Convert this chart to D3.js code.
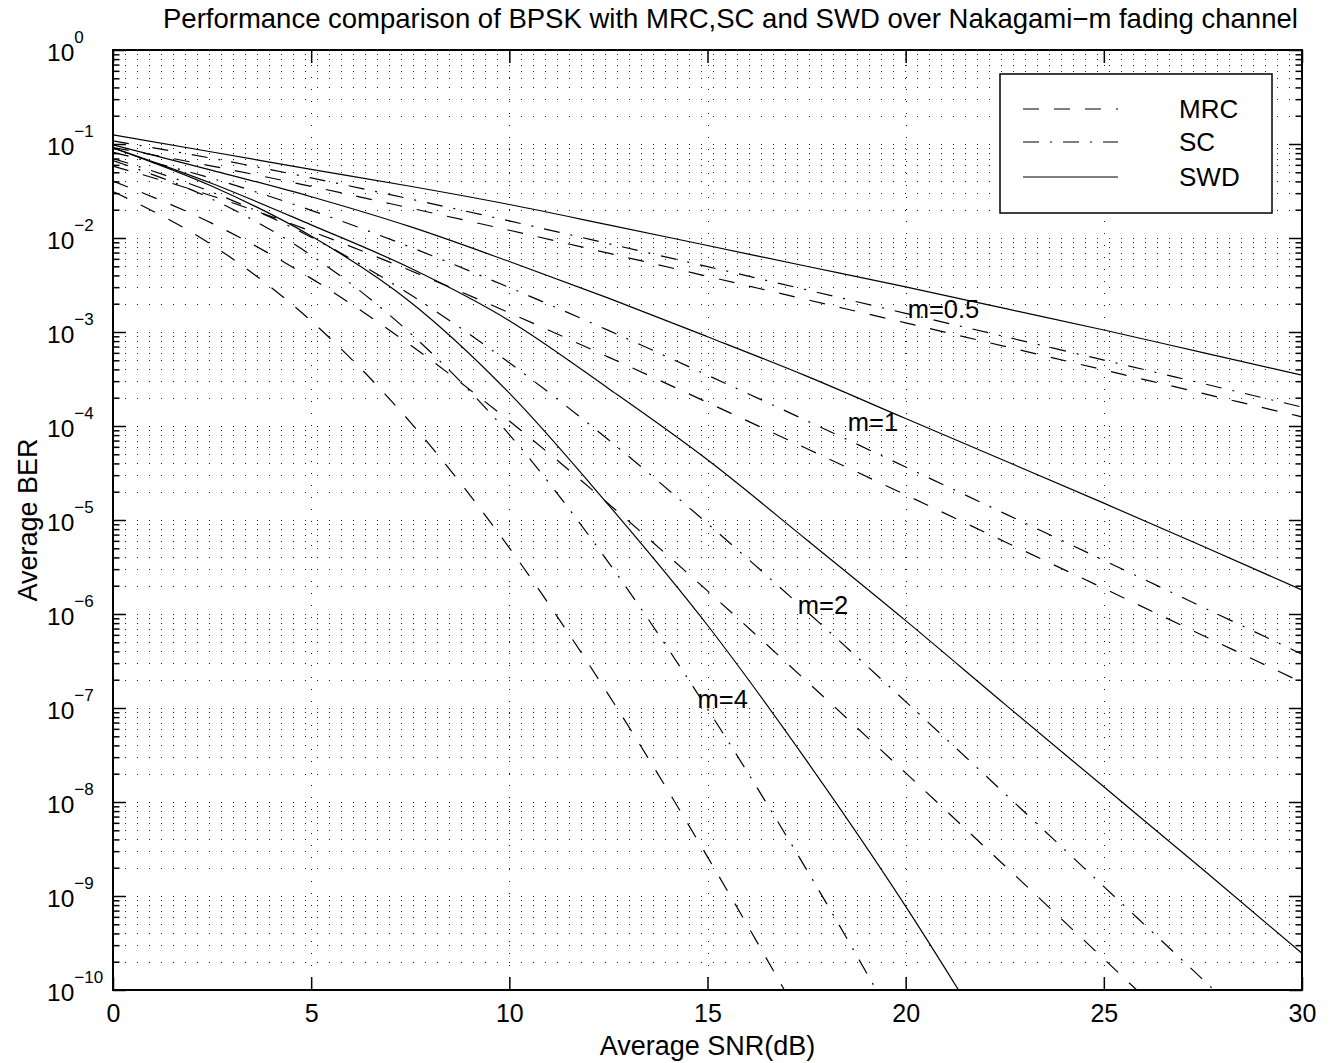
<!DOCTYPE html>
<html>
<head>
<meta charset="utf-8">
<script src="https://cdn.jsdelivr.net/npm/d3@7"></script>
<style>
  html, body { margin: 0; padding: 0; background: #fff; }
  text { font-family: "Liberation Sans", Arial, Helvetica, sans-serif; fill: #000; }
</style>
</head>
<body>
<svg id="chart" width="1335" height="1063"></svg>
<script>
// ---------------- data ----------------
const snrDb = [0, 2.5, 5, 7.5, 10, 12.5, 15, 17.5, 20, 22.5, 25, 27.5, 30];

// MRC (dashed)
const mrcM05 = [9.18e-2, 5.82e-2, 3.54e-2, 2.08e-2, 1.21e-2, 6.89e-3, 3.91e-3, 2.21e-3, 1.25e-3, 7.03e-4, 3.95e-4, 2.22e-4, 1.25e-4];
const mrcM1  = [5.81e-2, 2.80e-2, 1.18e-2, 4.51e-3, 1.60e-3, 5.41e-4, 1.78e-4, 5.76e-5, 1.85e-5, 5.88e-6, 1.87e-6, 5.91e-7, 1.87e-7];
const mrcM2  = [4.03e-2, 1.43e-2, 3.72e-3, 7.29e-4, 1.13e-4, 1.49e-5, 1.76e-6, 1.93e-7, 2.04e-8, 2.10e-9, 2.14e-10, 2.17e-11];
const mrcM4  = [3.13e-2, 8.43e-3, 1.31e-3, 1.10e-4, 5.05e-6, 1.39e-7, 2.61e-9, 3.83e-11];

// SC (dash-dot)
const scM05 = [1.08e-1, 7.04e-2, 4.36e-2, 2.60e-2, 1.52e-2, 8.71e-3, 4.96e-3, 2.81e-3, 1.58e-3, 8.93e-4, 5.03e-4, 2.83e-4, 1.59e-4];
const scM1  = [8.16e-2, 4.30e-2, 1.97e-2, 8.01e-3, 2.97e-3, 1.04e-3, 3.47e-4, 1.14e-4, 3.66e-5, 1.17e-5, 3.72e-6, 1.18e-6, 3.74e-7];
const scM2  = [7.01e-2, 3.07e-2, 1.02e-2, 2.50e-3, 4.70e-4, 7.14e-5, 9.16e-6, 1.07e-6, 1.17e-7, 1.23e-8, 1.26e-9, 1.29e-10, 1.31e-11];
const scM4  = [6.66e-2, 2.59e-2, 6.55e-3, 9.70e-4, 8.10e-5, 3.55e-6, 9.77e-8, 1.91e-9, 2.82e-11];

// SWD (solid)
const swdM05 = [1.25e-1, 8.22e-2, 5.37e-2, 3.55e-2, 2.27e-2, 1.38e-2, 8.32e-3, 5.01e-3, 3.02e-3, 1.78e-3, 1.05e-3, 6.03e-4, 3.47e-4];
const swdM1  = [9.77e-2, 5.25e-2, 2.75e-2, 1.32e-2, 5.62e-3, 2.29e-3, 8.91e-4, 3.39e-4, 1.20e-4, 4.27e-5, 1.51e-5, 5.25e-6, 1.80e-6];
const swdM2  = [9.12e-2, 3.80e-2, 1.38e-2, 4.79e-3, 1.32e-3, 2.51e-4, 4.37e-5, 6.17e-6, 8.51e-7, 1.10e-7, 1.45e-8, 1.91e-9, 2.46e-10];
const swdM4  = [9.12e-2, 3.55e-2, 1.05e-2, 2.09e-3, 2.24e-4, 1.45e-5, 7.59e-7, 2.75e-8, 7.76e-10, 1.59e-11];

const xTickValues = [0, 5, 10, 15, 20, 25, 30];
const yTickExponents = [0, -1, -2, -3, -4, -5, -6, -7, -8, -9, -10];
const legendLabels = ["MRC", "SC", "SWD"];
const curveLabels = ["m=0.5", "m=1", "m=2", "m=4"];

const titleText = "Performance comparison of BPSK with MRC,SC and SWD over Nakagami\u2212m fading channel";
const xLabelText = "Average SNR(dB)";
const yLabelText = "Average BER";

// ---------------- layout ----------------
const L = 113, R = 1302, T = 50, B = 990;
const svg = d3.select("#chart");
const x = d3.scaleLinear().domain([0, 30]).range([L, R]);
const y = d3.scaleLog().domain([1e-10, 1]).range([B, T]);

const styles = {
  MRC: "16,15",
  SC: "16,11,2,11",
  SWD: null
};

const majorVals = yTickExponents.map(e => Math.pow(10, e));
const minorVals = [];
for (let k = -10; k <= -1; k++) for (let j = 2; j <= 9; j++) minorVals.push(j * Math.pow(10, k));

// ---------------- grid ----------------
const grid = svg.append("g").attr("shape-rendering", "crispEdges")
  .attr("stroke", "#1a1a1a").attr("stroke-width", 1).attr("stroke-dasharray", "1,11");
grid.selectAll("line.h").data(majorVals.concat(minorVals).filter(v => v < 1 && v > 1e-10))
  .enter().append("line")
  .attr("x1", L).attr("x2", R)
  .attr("y1", d => Math.round(y(d)) + 0.5).attr("y2", d => Math.round(y(d)) + 0.5);
grid.selectAll("line.v").data([5, 10, 15, 20, 25])
  .enter().append("line")
  .attr("y1", B).attr("y2", T)
  .attr("x1", d => Math.round(x(d)) + 0.5).attr("x2", d => Math.round(x(d)) + 0.5);

// ---------------- curves ----------------
svg.append("defs").append("clipPath").attr("id", "plotclip")
  .append("rect").attr("x", L).attr("y", T).attr("width", R - L).attr("height", B - T);

const series = [
  { vals: mrcM05, type: "MRC" }, { vals: mrcM1, type: "MRC" }, { vals: mrcM2, type: "MRC" }, { vals: mrcM4, type: "MRC" },
  { vals: scM05, type: "SC" }, { vals: scM1, type: "SC" }, { vals: scM2, type: "SC" }, { vals: scM4, type: "SC" },
  { vals: swdM05, type: "SWD" }, { vals: swdM1, type: "SWD" }, { vals: swdM2, type: "SWD" }, { vals: swdM4, type: "SWD" }
];

const line = d3.line()
  .x(d => x(d[0]))
  .y(d => y(d[1]))
  .curve(d3.curveMonotoneX);

const curves = svg.append("g").attr("clip-path", "url(#plotclip)");
series.forEach(s => {
  const pts = s.vals.map((v, i) => [snrDb[i], v]);
  curves.append("path")
    .attr("d", line(pts))
    .attr("fill", "none")
    .attr("stroke", "#000")
    .attr("stroke-width", 1.2)
    .attr("stroke-dasharray", styles[s.type]);
});

// ---------------- curve annotations ----------------
const labelPos = [[20.05, 1.41e-3], [18.54, 8.75e-5], [17.28, 1.0e-6], [14.75, 1.0e-7]];
curveLabels.forEach((t, i) => {
  svg.append("text")
    .attr("x", x(labelPos[i][0])).attr("y", y(labelPos[i][1]))
    .attr("font-size", 25.5)
    .text(t);
});

// ---------------- axes ----------------
const tickStroke = g => g.selectAll(".tick line").attr("stroke", "#000").attr("stroke-width", 1.5);

const xBottom = svg.append("g").attr("transform", `translate(0,${B})`)
  .call(d3.axisBottom(x).tickValues(xTickValues).tickSize(-13).tickPadding(14).tickFormat(d3.format("d")));
xBottom.select(".domain").remove();
xBottom.call(tickStroke);
xBottom.selectAll("text").attr("font-size", 25).attr("font-family", "Liberation Sans, Arial, sans-serif").attr("fill", "#000");

const xTop = svg.append("g").attr("transform", `translate(0,${T})`)
  .call(d3.axisTop(x).tickValues(xTickValues).tickSize(-13).tickFormat(""));
xTop.select(".domain").remove();
xTop.call(tickStroke);

[["left", L, d3.axisLeft], ["right", R, d3.axisRight]].forEach(([side, pos, ax]) => {
  const gMaj = svg.append("g").attr("transform", `translate(${pos},0)`)
    .call(ax(y).tickValues(majorVals).tickSize(-13).tickFormat(""));
  gMaj.select(".domain").remove();
  gMaj.call(tickStroke);
  const gMin = svg.append("g").attr("transform", `translate(${pos},0)`)
    .call(ax(y).tickValues(minorVals).tickSize(-6.5).tickFormat(""));
  gMin.select(".domain").remove();
  gMin.call(tickStroke);
});

// y tick labels: 10 with superscript exponent
yTickExponents.forEach(e => {
  const ty = y(Math.pow(10, e));
  const t = svg.append("text").attr("x", 47).attr("y", ty + 10.5).attr("font-size", 24.5);
  t.append("tspan").text("10");
  t.append("tspan").attr("dy", -17.5).attr("font-size", 17)
    .text(e === 0 ? "0" : "\u2212" + Math.abs(e));
});

// axis box
svg.append("rect").attr("x", L).attr("y", T).attr("width", R - L).attr("height", B - T)
  .attr("fill", "none").attr("stroke", "#000").attr("stroke-width", 2);

// ---------------- titles ----------------
svg.append("text").attr("x", 163).attr("y", 28).attr("text-anchor", "start")
  .attr("font-size", 27.5).text(titleText);
svg.append("text").attr("x", (L + R) / 2).attr("y", 1055).attr("text-anchor", "middle")
  .attr("font-size", 27).text(xLabelText);
svg.append("text").attr("transform", `translate(37,${(T + B) / 2}) rotate(-90)`)
  .attr("text-anchor", "middle").attr("font-size", 27).text(yLabelText);

// ---------------- legend ----------------
const lg = svg.append("g");
lg.append("rect").attr("x", 1000).attr("y", 74).attr("width", 272).attr("height", 139)
  .attr("fill", "#fff").attr("stroke", "#000").attr("stroke-width", 1.5);
const legendY = [109, 142, 177];
legendLabels.forEach((lab, i) => {
  lg.append("line").attr("x1", 1023).attr("x2", 1118)
    .attr("y1", legendY[i]).attr("y2", legendY[i])
    .attr("stroke", "#000").attr("stroke-width", 1.2)
    .attr("stroke-dasharray", styles[lab]);
  lg.append("text").attr("x", 1179).attr("y", legendY[i] + 9.3)
    .attr("font-size", 26).text(lab);
});
</script>
</body>
</html>
